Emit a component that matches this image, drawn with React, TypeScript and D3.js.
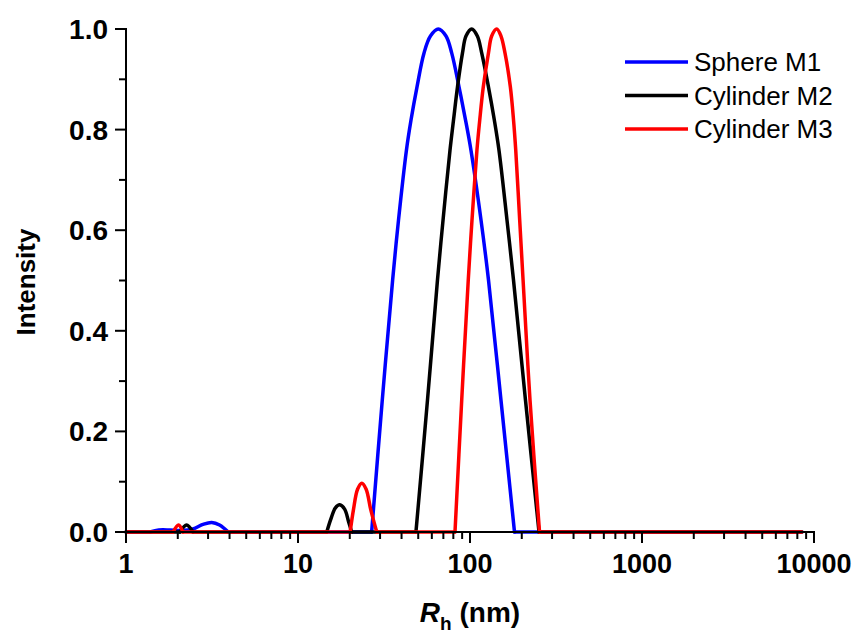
import React from 'react';
import * as d3 from 'd3';

const xTickValues = [1, 10, 100, 1000, 10000];
const xTickLabels = ['1', '10', '100', '1000', '10000'];
const yTickValues = [0, 0.2, 0.4, 0.6, 0.8, 1.0];
const yTickLabels = ['0.0', '0.2', '0.4', '0.6', '0.8', '1.0'];
const yMinorTicks = [0.1, 0.3, 0.5, 0.7, 0.9];

const seriesNames = ['Sphere M1', 'Cylinder M2', 'Cylinder M3'];
const seriesColors = ['#0000ff', '#000000', '#ff0000'];

const sphereR = [1, 1.38, 1.55, 1.8, 2.1, 2.45, 2.8, 3.15, 3.5, 3.93, 26.8, 30.9, 35.5, 38.4, 42.7, 45.4, 49.2, 54.0, 58.9, 65.4, 72.5, 78.3, 86.3, 94.2, 101.3, 115.9, 128.1, 151.4, 181.4, 8500];
const sphereI = [0, 0, 0.004, 0.004, 0.003, 0.006, 0.015, 0.019, 0.014, 0, 0, 0.262, 0.501, 0.62, 0.759, 0.819, 0.885, 0.952, 0.986, 1.0, 0.986, 0.952, 0.885, 0.819, 0.759, 0.62, 0.501, 0.262, 0, 0];

const cyl2R = [1, 2.06, 2.25, 2.45, 14.7, 15.5, 16.5, 17.5, 18.7, 19.7, 20.5, 48.5, 56.6, 64.7, 69.7, 76.5, 80.2, 84.6, 90.4, 94.8, 102.3, 110.3, 117, 128, 138.5, 147.4, 164.1, 179.0, 210.2, 251.9, 8500];
const cyl2I = [0, 0, 0.014, 0, 0, 0.025, 0.048, 0.054, 0.045, 0.02, 0, 0, 0.262, 0.501, 0.62, 0.759, 0.819, 0.885, 0.952, 0.986, 1.0, 0.986, 0.952, 0.885, 0.819, 0.759, 0.62, 0.501, 0.262, 0, 0];

const cyl3R = [1, 1.88, 2.02, 2.14, 20.1, 21.0, 22.2, 23.5, 24.9, 26.5, 28.7, 81.8, 89.5, 97.7, 102.7, 109.8, 114.0, 119.5, 128, 133.7, 143, 151.4, 159.8, 171.6, 179.0, 184.4, 194.5, 203.5, 223.3, 253.6, 8500];
const cyl3I = [0, 0, 0.014, 0, 0, 0.044, 0.085, 0.097, 0.085, 0.044, 0, 0, 0.262, 0.501, 0.62, 0.76, 0.82, 0.885, 0.952, 0.986, 1.0, 0.986, 0.952, 0.885, 0.82, 0.76, 0.62, 0.501, 0.262, 0, 0];

const seriesR = [sphereR, cyl2R, cyl3R];
const seriesI = [sphereI, cyl2I, cyl3I];

const W = 858;
const H = 634;
const left = 126;
const right = 814;
const top = 29;
const bottom = 532;
const FONT = 'Liberation Sans, Arial, Helvetica, sans-serif';

type Pt = [number, number];

// split a series into flat zero runs (straight) and peaks (smooth), each peak bounded by its zero feet
function splitSeries(pts: Pt[]): { flat: Pt[][]; peaks: Pt[][] } {
  const flat: Pt[][] = [];
  const peaks: Pt[][] = [];
  let i = 0;
  const n = pts.length;
  while (i < n) {
    if (pts[i][1] === 0) {
      const run: Pt[] = [pts[i]];
      let j = i + 1;
      while (j < n && pts[j][1] === 0) {
        run.push(pts[j]);
        j++;
      }
      if (run.length > 1) flat.push(run);
      i = j;
    } else {
      const peak: Pt[] = [pts[i - 1] || pts[i]];
      let j = i;
      while (j < n && pts[j][1] !== 0) {
        peak.push(pts[j]);
        j++;
      }
      if (j < n) peak.push(pts[j]);
      peaks.push(peak);
      i = j;
    }
  }
  return { flat, peaks };
}

export default function App() {
  const x = d3.scaleLog().domain([1, 10000]).range([left, right]);
  const y = d3.scaleLinear().domain([0, 1]).range([bottom, top]);
  const lineFlat = d3
    .line<Pt>()
    .x((d) => x(d[0]))
    .y((d) => y(d[1]));
  const lineSmooth = d3
    .line<Pt>()
    .x((d) => x(d[0]))
    .y((d) => y(d[1]))
    .curve(d3.curveCatmullRom.alpha(0.5));

  const xMinor: number[] = [];
  for (let d = 0; d < 4; d++) {
    for (let k = 2; k <= 9; k++) xMinor.push(k * Math.pow(10, d));
  }

  const legendX0 = 625;
  const legendX1 = 688;
  const legendY0 = 62;
  const legendDy = 33.5;

  return (
    <svg width={W} height={H} style={{ position: 'absolute', left: 0, top: 0, background: '#fff' }}>
      <rect x={0} y={0} width={W} height={H} fill="#fff" />
      {seriesR.map((rs, si) => {
        const pts: Pt[] = rs.map((r, i) => [r, seriesI[si][i]] as Pt);
        const { flat, peaks } = splitSeries(pts);
        return (
          <g key={si} fill="none" stroke={seriesColors[si]} strokeWidth={3.5} strokeLinejoin="round" strokeLinecap="round">
            {flat.map((f, k) => (
              <path key={'f' + k} d={lineFlat(f) || ''} />
            ))}
            {peaks.map((p, k) => (
              <path key={'p' + k} d={lineSmooth(p) || ''} />
            ))}
          </g>
        );
      })}
      {/* axes */}
      <line x1={left} x2={left} y1={top - 1} y2={bottom + 1} stroke="#000" strokeWidth={2} />
      <line x1={left - 1} x2={right + 1} y1={bottom} y2={bottom} stroke="#000" strokeWidth={2} />
      {yTickValues.map((v, i) => (
        <g key={'yt' + i}>
          <line x1={left - 11} x2={left} y1={y(v)} y2={y(v)} stroke="#000" strokeWidth={2} />
          <text
            x={108}
            y={y(v)}
            dy="0.36em"
            textAnchor="end"
            fontFamily={FONT}
            fontWeight="bold"
            fontSize={28}
          >
            {yTickLabels[i]}
          </text>
        </g>
      ))}
      {yMinorTicks.map((v, i) => (
        <line key={'ym' + i} x1={left - 7} x2={left} y1={y(v)} y2={y(v)} stroke="#000" strokeWidth={2} />
      ))}
      {xTickValues.map((v, i) => (
        <g key={'xt' + i}>
          <line x1={x(v)} x2={x(v)} y1={bottom} y2={bottom + 11} stroke="#000" strokeWidth={2} />
          <text
            x={x(v)}
            y={573}
            textAnchor="middle"
            fontFamily={FONT}
            fontWeight="bold"
            fontSize={27}
          >
            {xTickLabels[i]}
          </text>
        </g>
      ))}
      {xMinor.map((v, i) => (
        <line key={'xm' + i} x1={x(v)} x2={x(v)} y1={bottom} y2={bottom + 7} stroke="#000" strokeWidth={2} />
      ))}
      {/* axis titles */}
      <text
        transform="translate(35,282) rotate(-90)"
        textAnchor="middle"
        fontFamily={FONT}
        fontWeight="bold"
        fontSize={26}
      >
        Intensity
      </text>
      <text x={470} y={622} textAnchor="middle" fontFamily={FONT} fontWeight="bold" fontSize={28}>
        <tspan fontStyle="italic">R</tspan>
        <tspan fontSize={19} dy={8}>h</tspan>
        <tspan dy={-8}> (nm)</tspan>
      </text>
      {/* legend */}
      {seriesNames.map((n, i) => (
        <g key={'lg' + i}>
          <line
            x1={legendX0}
            x2={legendX1}
            y1={legendY0 + i * legendDy}
            y2={legendY0 + i * legendDy}
            stroke={seriesColors[i]}
            strokeWidth={3.5}
          />
          <text
            x={694}
            y={legendY0 + i * legendDy}
            dy="0.36em"
            fontFamily={FONT}
            fontSize={26}
          >
            {n}
          </text>
        </g>
      ))}
    </svg>
  );
}
